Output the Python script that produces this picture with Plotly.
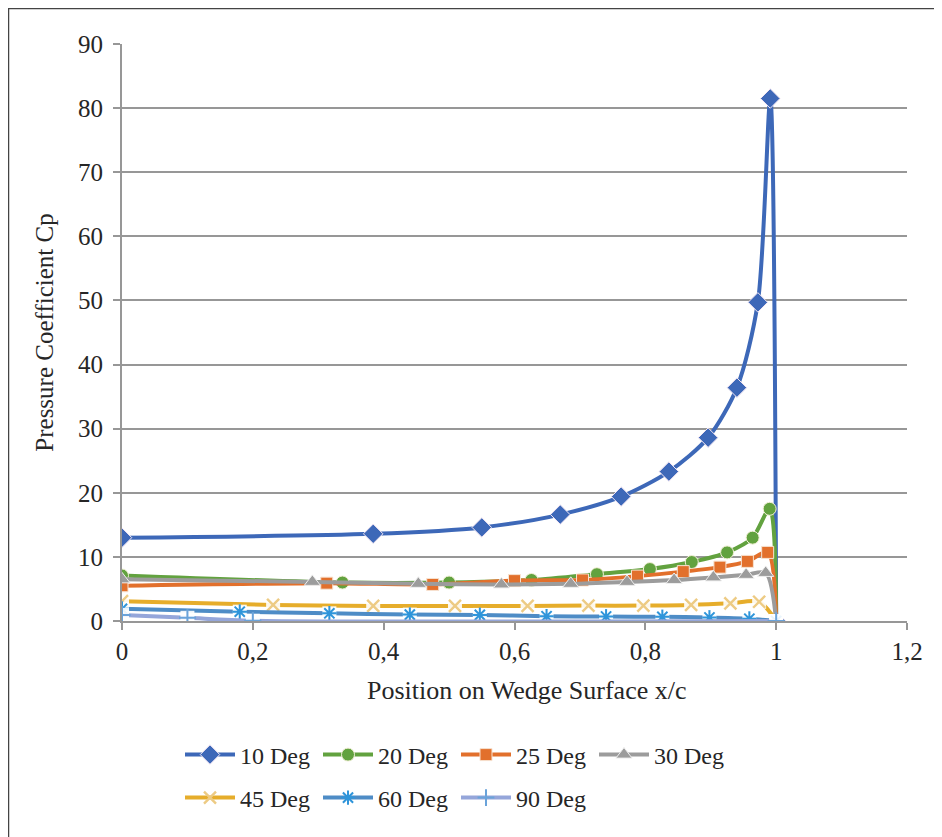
import plotly.graph_objects as go

# ---------------- data ----------------
x_10 = [0, 0.384, 0.55, 0.67, 0.763, 0.836, 0.896, 0.94, 0.972, 0.991, 1.0]
y_10 = [13.0, 13.6, 14.6, 16.6, 19.4, 23.3, 28.6, 36.4, 49.7, 81.5, 0]

x_20 = [0, 0.337, 0.5, 0.626, 0.726, 0.807, 0.871, 0.925, 0.964, 0.99, 1.0]
y_20 = [7.1, 6.0, 6.0, 6.4, 7.3, 8.1, 9.2, 10.7, 13.0, 17.5, 0]

x_25 = [0, 0.313, 0.475, 0.6, 0.704, 0.788, 0.858, 0.914, 0.956, 0.987, 1.0]
y_25 = [5.5, 5.9, 5.7, 6.3, 6.4, 7.0, 7.7, 8.4, 9.3, 10.7, 0]

x_30 = [0, 0.291, 0.453, 0.58, 0.686, 0.772, 0.844, 0.904, 0.954, 0.984, 1.0]
y_30 = [6.5, 6.1, 5.8, 5.7, 5.8, 6.1, 6.4, 6.8, 7.2, 7.5, 0]

x_45 = [0, 0.231, 0.384, 0.509, 0.62, 0.713, 0.797, 0.87, 0.93, 0.974, 1.0]
y_45 = [3.1, 2.5, 2.35, 2.35, 2.35, 2.4, 2.4, 2.5, 2.75, 3.0, 0]

x_60 = [0, 0.18, 0.317, 0.44, 0.547, 0.649, 0.74, 0.826, 0.898, 0.959, 1.0]
y_60 = [1.9, 1.45, 1.2, 1.0, 0.95, 0.75, 0.7, 0.65, 0.55, 0.35, 0]

x_90 = [0, 0.1, 0.2, 1.0]
y_90 = [0.95, 0.5, 0.05, 0]

series_names = ["10 Deg", "20 Deg", "25 Deg", "30 Deg", "45 Deg", "60 Deg", "90 Deg"]

x_tickvals = [0, 0.2, 0.4, 0.6, 0.8, 1.0, 1.2]
x_ticktext = ["0", "0,2", "0,4", "0,6", "0,8", "1", "1,2"]
y_tickvals = [0, 10, 20, 30, 40, 50, 60, 70, 80, 90]

x_title = "Position on Wedge Surface x/c"
y_title = "Pressure Coefficient Cp"

# ---------------- styling ----------------
FONT = "Liberation Serif"
TXT = "#262626"
GRID = "#979797"

styles = [
    dict(color="#3D68B8", symbol="diamond", size=15, mcolor="#3D68B8", lw=1, lc="#f3e6f3"),
    dict(color="#62A23F", symbol="circle", size=13, mcolor="#62A23F", lw=1, lc="#f3f0d8"),
    dict(color="#E2702C", symbol="square", size=12, mcolor="#E2702C", lw=1, lc="#f7e2d0"),
    dict(color="#9C9C9C", symbol="triangle-up", size=14, mcolor="#9C9C9C", lw=1, lc="#eeeeee"),
    dict(color="#E6AD2B", symbol="x-thin", size=12, mcolor="#EDCB84", lw=2.4, lc="#EDCB84"),
    dict(color="#4E8CC6", symbol="asterisk", size=12, mcolor="#2F95DA", lw=2, lc="#2F95DA"),
    dict(color="#95A6DA", symbol="cross-thin", size=12, mcolor="#6AA3DA", lw=2, lc="#6AA3DA"),
]

xs = [x_10, x_20, x_25, x_30, x_45, x_60, x_90]
ys = [y_10, y_20, y_25, y_30, y_45, y_60, y_90]

fig = go.Figure()

for i, (name, xv, yv, st) in enumerate(zip(series_names, xs, ys, styles)):
    legend_id = "legend" if i < 4 else "legend2"
    open_marker = st["symbol"] in ("x-thin", "asterisk", "cross-thin")
    fig.add_trace(go.Scatter(
        x=xv, y=yv, name=name, mode="lines+markers",
        line=dict(color=st["color"], width=4, shape="spline", smoothing=0.8),
        marker=dict(symbol=st["symbol"], size=st["size"], color=st["mcolor"],
                    line=dict(width=st["lw"], color=st["lc"])),
        legend=legend_id,
    ))
    if open_marker:
        # white background boxes behind the thin glyph markers, as in the original
        fig.add_trace(go.Scatter(
            x=xv, y=yv, mode="markers", showlegend=False, hoverinfo="skip",
            marker=dict(symbol="square", size=st["size"] + 2, color="rgba(255,255,255,0.9)",
                        line=dict(width=0)),
        ))
        fig.add_trace(go.Scatter(
            x=xv, y=yv, mode="markers", showlegend=False, hoverinfo="skip",
            marker=dict(symbol=st["symbol"], size=st["size"], color=st["mcolor"],
                        line=dict(width=st["lw"], color=st["lc"])),
        ))

# the page adds an 8px body margin, so the figure is sized/placed accordingly
OFF = 8
W, H = 942 - OFF, 837 - OFF
L, R, T, B = 122 - OFF, 35, 44 - OFF, 216
pw, ph = W - L - R, H - T - B


def px_to_paper_x(screen_px):
    return (screen_px - OFF - L) / pw


def px_to_paper_y(screen_py):
    return (H - B - (screen_py - OFF)) / ph


legend_common = dict(
    orientation="h", xanchor="left", yanchor="middle",
    entrywidth=73, entrywidthmode="pixels", itemwidth=50,
    font=dict(family=FONT, size=24, color=TXT), bgcolor="rgba(0,0,0,0)",
)

fig.update_layout(
    width=W, height=H,
    margin=dict(l=L, r=R, t=T, b=B),
    paper_bgcolor="white", plot_bgcolor="white",
    font=dict(family=FONT, color=TXT, size=25),
    xaxis=dict(
        range=[0, 1.2], tickvals=x_tickvals, ticktext=x_ticktext,
        showgrid=False, zeroline=False,
        showline=True, linecolor=GRID, linewidth=2,
        ticks="outside", ticklen=7, tickwidth=2, tickcolor=GRID,
        tickfont=dict(family=FONT, size=25, color=TXT),
    ),
    yaxis=dict(
        range=[0, 90], tickvals=y_tickvals,
        showgrid=True, gridcolor=GRID, gridwidth=2,
        zeroline=False,
        showline=True, linecolor=GRID, linewidth=2,
        ticks="outside", ticklen=7, tickwidth=2, tickcolor=GRID,
        ticklabelstandoff=5,
        tickfont=dict(family=FONT, size=25, color=TXT),
        title=dict(text=y_title, font=dict(family=FONT, size=25, color=TXT), standoff=17),
    ),
    legend=dict(legend_common, x=px_to_paper_x(180), y=px_to_paper_y(755)),
    legend2=dict(legend_common, x=px_to_paper_x(180), y=px_to_paper_y(798)),
    annotations=[dict(
        text=x_title, xref="paper", yref="paper",
        x=px_to_paper_x(526), y=px_to_paper_y(690),
        xanchor="center", yanchor="middle", showarrow=False,
        font=dict(family=FONT, size=26, color=TXT),
    )],
    shapes=[dict(
        type="rect", xref="paper", yref="paper",
        x0=px_to_paper_x(8.5), x1=px_to_paper_x(980),
        y0=px_to_paper_y(900), y1=px_to_paper_y(8.5),
        line=dict(color="#444444", width=1.5), fillcolor="rgba(0,0,0,0)", layer="below",
    )],
)

fig.write_html("out.html")
